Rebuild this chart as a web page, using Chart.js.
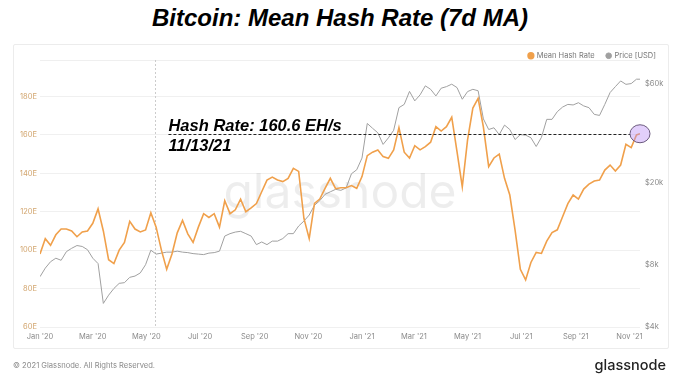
<!DOCTYPE html>
<html><head><meta charset="utf-8">
<script src="https://cdn.jsdelivr.net/npm/chart.js@4.4.1/dist/chart.umd.min.js"></script>
<style>
html,body{margin:0;padding:0;background:#fff;}
body{width:680px;height:382px;position:relative;overflow:hidden;font-family:Inter,"Liberation Sans",sans-serif;}
#title{position:absolute;left:0;top:4px;width:680px;text-align:center;font:italic bold 24px "Liberation Sans",Arial,sans-serif;color:#000;}
#panel{position:absolute;left:13px;top:44px;width:654px;height:303px;border:1px solid #ececec;border-radius:2px;}
#wrap{position:absolute;left:0;top:0;width:680px;height:382px;}
#footer{position:absolute;left:13px;top:361px;font:7.6px Inter,sans-serif;color:#8a8a8a;}
#logo{position:absolute;right:14px;top:356px;font:500 14.5px Inter,sans-serif;color:#222;}
</style></head><body>
<div id="title">Bitcoin: Mean Hash Rate (7d MA)</div>
<div id="panel"></div>
<div id="wrap"><canvas id="c"></canvas></div>
<div id="footer">© 2021 Glassnode. All Rights Reserved.</div>
<div id="logo">glassnode</div>
<script>
// days since 2020-01-01
const days = [0,6,12,18,24,30,36,42,48,54,
60,66,72,78,84,90,96,102,108,114,
120,126,132,138,144,150,156,162,168,174,
180,186,192,198,204,210,216,222,228,234,
240,246,252,258,264,270,276,282,288,294,
300,306,312,318,324,330,336,342,348,354,
360,366,372,378,384,390,396,402,408,414,
420,426,432,438,444,450,456,462,468,474,
480,486,492,498,504,510,516,522,528,534,
540,546,552,558,564,570,576,582,588,594,
600,606,612,618,624,630,636,642,648,654,
660,666,672,678,682];

// Mean Hash Rate, EH/s (7d MA)
const hashRate = [98,106,102.5,108,111,111,110,107,109.5,110,
114,121.5,110,95,93,100,104,115,111,109.5,
110.5,119.5,112,100,90,98,109,115.5,108.5,104,
112,119,117,119,112,125.7,119,121,126.6,120,
122,124.3,130.4,136.5,138,136.5,135.7,137.4,142.6,141,
116.5,106,124.3,126.6,132.2,137.4,132,132.5,132.5,133.6,
132.2,138.3,149.2,151,152.2,148.7,147.8,152.2,163.8,151,
148,154.4,152.2,153.9,156.2,164.3,162,164.3,169.2,151.3,
133,157.4,174,179,164,143.5,148,150,137.4,128.7,
110.4,90,84.5,93.6,98.8,98.3,104.7,109.2,110.6,117.4,
124.2,128.7,126.6,131.8,134.4,136,136.5,141.7,144.3,141.2,
144.3,155.1,153.4,160,160.6];

// BTC price, USD
const price = [7000,7700,8270,8600,8400,9250,9600,9900,9800,9450,
8600,8100,5200,5700,6140,6500,6550,6950,7050,7300,
8000,9400,9000,9100,9200,9200,9300,9200,9150,9050,
9000,8950,9100,9150,9300,11000,11300,11500,11600,11300,
11000,10000,10300,10000,10400,10400,10700,11300,11300,12300,
13000,13900,15500,16300,17500,18000,18500,18300,18800,22000,
23000,26200,38500,36500,34700,30500,32800,35700,45900,47600,
55000,49500,52900,58500,56300,52300,57000,58000,59600,57400,
50400,54900,56300,55400,40500,36000,36700,34000,37800,36000,
32200,34000,33800,32850,29800,33000,40300,40300,43900,46200,
47600,47300,48500,46800,45900,42600,42100,47600,54300,58000,
61800,59500,60000,63000,63000];

const monthTickDates = ['2020-01-01','2020-03-01','2020-05-01','2020-07-01','2020-09-01','2020-11-01',
                        '2021-01-01','2021-03-01','2021-05-01','2021-07-01','2021-09-01','2021-11-01'];
const monthTickLabels = ["Jan '20","Mar '20","May '20","Jul '20","Sep '20","Nov '20",
                         "Jan '21","Mar '21","May '21","Jul '21","Sep '21","Nov '21"];
const hashTicks = [60,80,100,120,140,160,180];
const priceTicks = [4000,8000,20000,60000];

const halvingDate = '2020-05-11';
const annotationStartDate = '2020-05-26';
const lastDateLabel = '11/13/21';

const dayOf = s => Math.round((Date.parse(s) - Date.parse('2020-01-01')) / 86400000);

const ORANGE = '#f0a04b', GRAY = '#a0a0a0';
const FONT = 'Inter, "Liberation Sans", sans-serif';

const legendFit = {
  id: 'legendFit',
  beforeLayout(chart) {
    const lg = chart.legend;
    if (lg && !lg.__patched) {
      const orig = lg.fit;
      lg.fit = function () { orig.call(this); this.height = 20; };
      lg.__patched = true;
    }
  }
};

const decor = {
  id: 'decor',
  beforeDatasetsDraw(chart) {
    const {ctx, chartArea: ca, scales} = chart;
    ctx.save();
    // top border line
    ctx.strokeStyle = '#efefef'; ctx.lineWidth = 1;
    ctx.beginPath(); ctx.moveTo(ca.left, Math.round(ca.top) + 0.5); ctx.lineTo(ca.right, Math.round(ca.top) + 0.5); ctx.stroke();
    // watermark
    ctx.font = '400 48px ' + FONT;
    ctx.fillStyle = 'rgba(0,0,0,0.07)';
    ctx.textAlign = 'center'; ctx.textBaseline = 'middle';
    ctx.fillText('glassnode', (ca.left + ca.right) / 2, (ca.top + ca.bottom) / 2);
    // halving line
    const hx = Math.round(scales.x.getPixelForValue(dayOf(halvingDate))) + 0.5;
    ctx.setLineDash([2, 2]); ctx.strokeStyle = '#cccccc';
    ctx.beginPath(); ctx.moveTo(hx, ca.top); ctx.lineTo(hx, ca.bottom); ctx.stroke();
    ctx.restore();
  },
  afterDatasetsDraw(chart) {
    const {ctx, scales} = chart;
    const last = days.length - 1;
    const lx = scales.x.getPixelForValue(days[last]);
    const ly = scales.y.getPixelForValue(hashRate[last]);
    const x0 = scales.x.getPixelForValue(dayOf(annotationStartDate));
    const rx = 10, ry = 9;
    ctx.save();
    ctx.setLineDash([3, 2]); ctx.strokeStyle = '#222'; ctx.lineWidth = 1;
    ctx.beginPath(); ctx.moveTo(x0, Math.round(ly) + 0.5); ctx.lineTo(lx - rx, Math.round(ly) + 0.5); ctx.stroke();
    ctx.setLineDash([]);
    ctx.beginPath(); ctx.ellipse(lx, ly, rx, ry, 0, 0, Math.PI * 2);
    ctx.fillStyle = 'rgba(185,140,245,0.42)'; ctx.fill();
    ctx.strokeStyle = '#6b5a7e'; ctx.lineWidth = 1; ctx.stroke();
    ctx.fillStyle = '#000';
    ctx.font = 'italic bold 16.5px "Liberation Sans", Arial, sans-serif';
    ctx.textAlign = 'left'; ctx.textBaseline = 'alphabetic';
    ctx.fillText('Hash Rate: ' + hashRate[last] + ' EH/s', x0, ly - 2.5);
    ctx.fillText(lastDateLabel, x0, ly + 17.5);
    ctx.restore();
  }
};

new Chart(document.getElementById('c'), {
  type: 'line',
  data: {
    datasets: [
      {label: 'Mean Hash Rate', data: days.map((d, i) => ({x: d, y: hashRate[i]})),
       borderColor: ORANGE, backgroundColor: ORANGE, borderWidth: 1.6, pointRadius: 0,
       yAxisID: 'y', order: 0, tension: 0},
      {label: 'Price [USD]', data: days.map((d, i) => ({x: d, y: price[i]})),
       borderColor: GRAY, backgroundColor: GRAY, borderWidth: 1, pointRadius: 0,
       yAxisID: 'y1', order: 1, tension: 0}
    ]
  },
  options: {
    responsive: true, maintainAspectRatio: false, animation: false,
    layout: {padding: {left: 13, right: 12, top: 40, bottom: 40}},
    plugins: {
      legend: {position: 'top', align: 'end',
        labels: {usePointStyle: true, pointStyle: 'circle', boxWidth: 4, boxHeight: 4, padding: 12,
                 color: '#777', font: {family: FONT, size: 7.5}}},
      tooltip: {enabled: false}
    },
    scales: {
      x: {type: 'linear', min: 0, max: days[days.length - 1],
          grid: {display: false, drawTicks: false}, border: {display: false},
          afterBuildTicks: s => { s.ticks = monthTickDates.map(d => ({value: dayOf(d)})); },
          afterFit: s => { s.height = 15; },
          ticks: {autoSkip: false, maxRotation: 0, padding: 5, color: '#8a8a8a',
                  font: {family: FONT, size: 7.5}, callback: (v, i) => monthTickLabels[i]}},
      y: {position: 'left', min: 60, max: 199,
          grid: {color: '#f0f0f0', drawTicks: false}, border: {display: false},
          afterBuildTicks: s => { s.ticks = hashTicks.map(v => ({value: v})); },
          afterFit: s => { s.width = 27; },
          ticks: {padding: 3, color: '#d2a56e', font: {family: FONT, size: 7.5}, callback: v => v + 'E'}},
      y1: {position: 'right', type: 'logarithmic', min: 4000, max: 78000,
          grid: {display: false, drawTicks: false}, border: {display: false},
          afterBuildTicks: s => { s.ticks = priceTicks.map(v => ({value: v})); },
          afterFit: s => { s.width = 28; },
          ticks: {padding: 5, color: '#8a8a8a', font: {family: FONT, size: 7.5}, callback: v => '$' + (v / 1000) + 'k'}}
    }
  },
  plugins: [legendFit, decor]
});
</script>
</body></html>
